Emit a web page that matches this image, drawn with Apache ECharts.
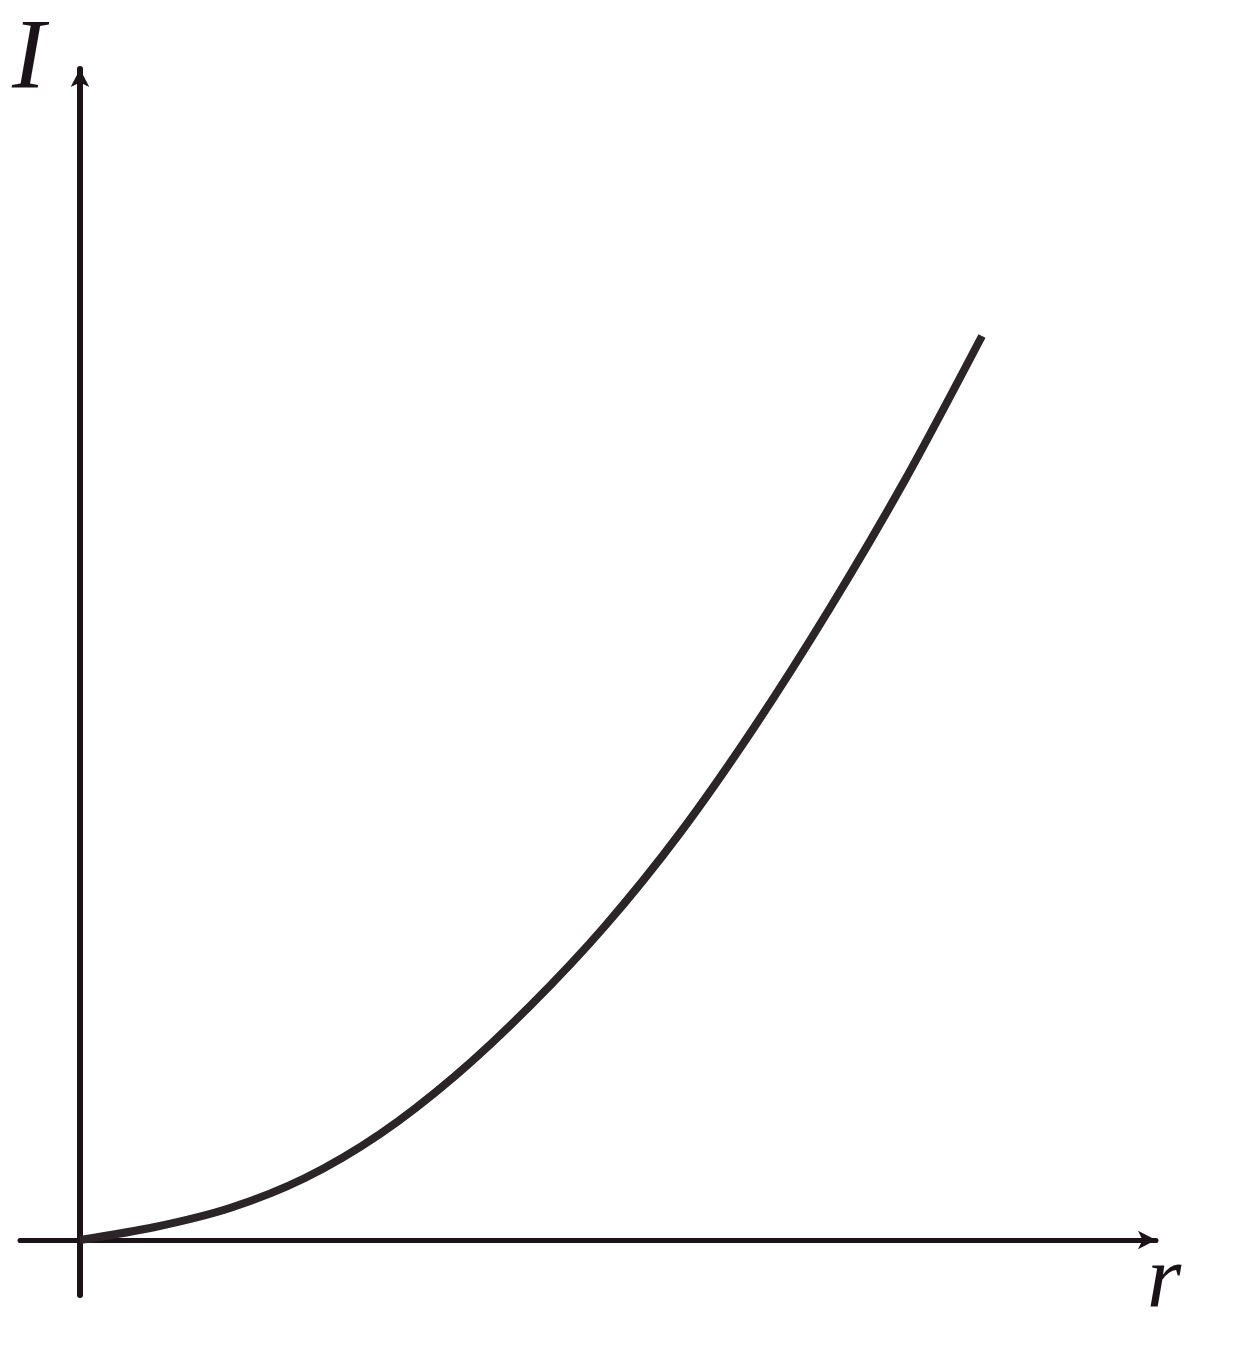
<!DOCTYPE html>
<html>
<head>
<meta charset="utf-8">
<title>I - r</title>
<script src="https://cdn.jsdelivr.net/npm/echarts@6/dist/echarts.min.js"></script>
<style>
  html, body { margin: 0; padding: 0; background: #fff; }
  #chart { width: 1248px; height: 1356px; }
</style>
</head>
<body>
<div id="chart"></div>
<script>
// curve (r, I) in plot units
var rValues = [0, 75, 150, 225, 300, 375, 450, 525, 600, 675, 750, 825, 902];
var iValues = [0, 13, 32, 62, 106, 164, 234, 314, 407, 514, 632, 760, 904];
var axisNames = { x: "r", y: "I" };

var chart = echarts.init(document.getElementById("chart"));

var curve = rValues.map(function (r, i) {
  return [r, iValues[i]];
});

var axisCommon = {
  type: "value",
  axisTick: { show: false },
  axisLabel: { show: false },
  splitLine: { show: false }
};

var option = {
  backgroundColor: "#ffffff",
  animation: false,
  grid: { left: 20, right: 92, top: 69, bottom: 61 },
  xAxis: Object.assign({}, axisCommon, {
    min: -60,
    max: 1076,
    axisLine: {
      onZero: true,
      symbol: ["none", "arrow"],
      symbolSize: [14, 18],
      lineStyle: { color: "#1c1318", width: 5 }
    }
  }),
  yAxis: Object.assign({}, axisCommon, {
    min: -55,
    max: 1171,
    axisLine: {
      onZero: true,
      symbol: ["none", "arrow"],
      symbolSize: [14, 18],
      lineStyle: { color: "#1c1318", width: 6 }
    }
  }),
  graphic: [
    {
      type: "text",
      x: 12,
      y: 61,
      style: {
        text: axisNames.y,
        font: "italic 100px 'Liberation Serif', serif",
        fill: "#1c1318",
        verticalAlign: "middle"
      }
    },
    {
      type: "text",
      x: 1147,
      y: 1283,
      style: {
        text: axisNames.x,
        font: "italic 88px 'Liberation Serif', serif",
        fill: "#1c1318",
        verticalAlign: "middle"
      }
    }
  ],
  series: [
    {
      type: "line",
      data: curve,
      smooth: 0.3,
      showSymbol: false,
      lineStyle: { color: "#2b2527", width: 8 }
    }
  ]
};

chart.setOption(option);
</script>
</body>
</html>
